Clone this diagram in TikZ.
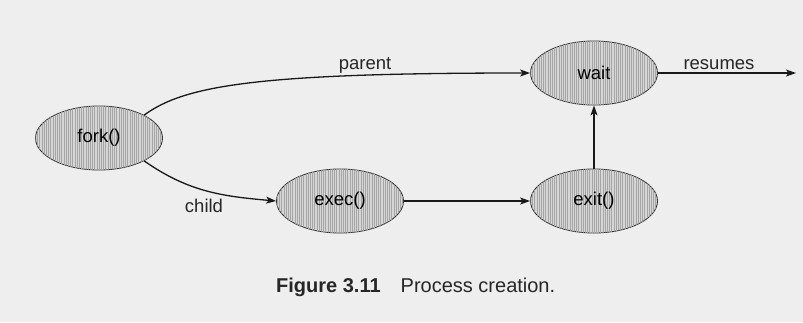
\documentclass[tikz,border=0pt]{standalone}
\usepackage{fontspec}
\setmainfont{Liberation Sans}
\usetikzlibrary{arrows.meta,patterns,patterns.meta,shapes.geometric}
\definecolor{bgc}{RGB}{238,238,238}
\definecolor{ellfill}{RGB}{214,214,214}
\definecolor{hatch}{RGB}{165,165,165}
\tikzset{
  proc/.style={ellipse, draw=black!80, line width=0.85pt, fill=ellfill,
    postaction={pattern={Lines[angle=90,distance=2.2pt,line width=0.5pt]}, pattern color=hatch},
    minimum width=127pt, minimum height=64pt, inner sep=0pt,
    font=\fontsize{18.5}{18.5}\selectfont},
  conn/.style={line width=1.3pt, draw=black!90, -{Stealth[length=10pt,width=7pt,inset=2.5pt]}},
  lbl/.style={font=\fontsize{18.5}{18.5}\selectfont, anchor=base, inner sep=0pt, text=black!85}
}
\begin{document}
\begin{tikzpicture}[x=1pt,y=-1pt]
\useasboundingbox (0,0) rectangle (803,322);
\fill[bgc] (0,0) rectangle (803,322);
\node[proc] (fork) at (99,138) {fork()};
\node[proc] (wait) at (594,73) {wait};
\node[proc] (exec) at (340,201) {exec()};
\node[proc] (exit) at (594,201) {exit()};
\coordinate (out) at (796,73);
\draw[conn] (fork.north east) .. controls (185,85) and (260,73) .. (wait.west);
\draw[conn] (fork.south east) to[out=-35,in=175] (exec.west);
\draw[conn] (exec.east) -- (exit.west);
\draw[conn] (exit.north) -- (wait.south);
\draw[conn] (wait.east) -- (out);
\node[lbl] (lparent) at (365,69) {parent};
\node[lbl] (lresumes) at (719,69) {resumes};
\node[lbl] (lchild) at (204,212) {child};
\node[font=\fontsize{20}{20}\selectfont, anchor=base west, inner sep=0pt, text=black!85] (cap) at (276,292) {\textbf{Figure 3.11}\hspace{20pt}Process creation.};
\end{tikzpicture}
\end{document}
